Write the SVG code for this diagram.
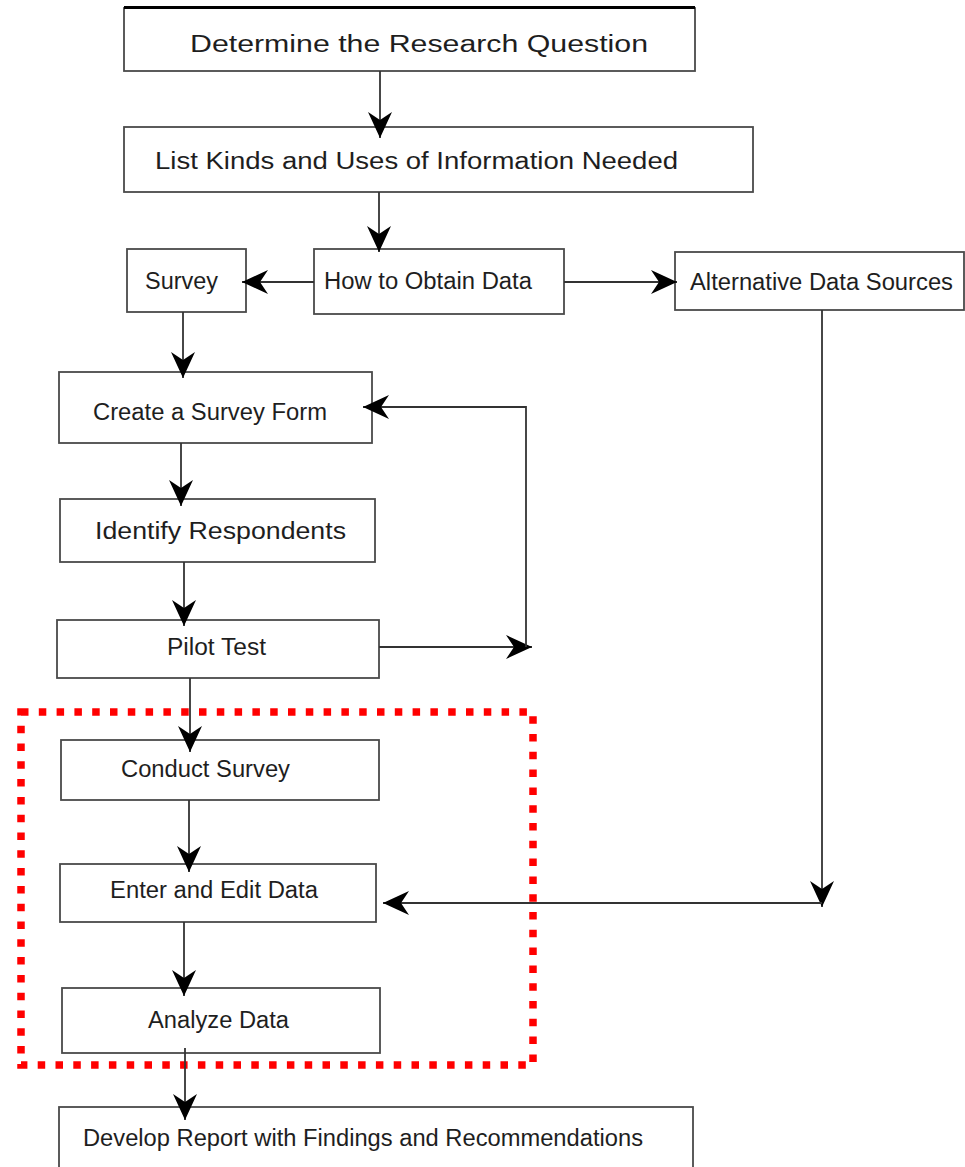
<svg xmlns="http://www.w3.org/2000/svg" width="965" height="1167" viewBox="0 0 965 1167">
<style>
.box{fill:#fff;stroke:#4a4a4a;stroke-width:1.8}
.t{font-family:"Liberation Sans",Arial,sans-serif;font-size:23px;fill:#1e1e1e}
.c{fill:none;stroke:#333;stroke-width:1.8}
.hl{fill:none;stroke:#ff0000;stroke-width:7.5;stroke-dasharray:7.5 10.3}
</style>
<defs>
<marker id="ah" markerUnits="userSpaceOnUse" markerWidth="30" markerHeight="28" viewBox="-28 -14 30 28" refX="0" refY="0" orient="auto">
<path d="M0,0 L-26,-12 L-18,0 L-26,12 Z" fill="#000"/>
</marker>
</defs>
<rect width="965" height="1167" fill="#fff"/>
<g id="n1"><rect class="box" x="124" y="8" width="571" height="63"/><line x1="124" y1="7.5" x2="695" y2="7.5" stroke="#000" stroke-width="3"/><text class="t" x="190" y="52" font-size="27" textLength="458" lengthAdjust="spacingAndGlyphs">Determine the Research Question</text></g>
<g id="n2"><rect class="box" x="124" y="127" width="629" height="65"/><text class="t" x="155" y="169" font-size="22" textLength="523" lengthAdjust="spacingAndGlyphs">List Kinds and Uses of Information Needed</text></g>
<g id="n3"><rect class="box" x="127" y="249" width="119" height="63"/><text class="t" x="145" y="289" textLength="73" lengthAdjust="spacingAndGlyphs">Survey</text></g>
<g id="n4"><rect class="box" x="314" y="249" width="250" height="65"/><text class="t" x="324" y="289" textLength="208" lengthAdjust="spacingAndGlyphs">How to Obtain Data</text></g>
<g id="n5"><rect class="box" x="675" y="252" width="289" height="58"/><text class="t" x="690" y="290" textLength="263" lengthAdjust="spacingAndGlyphs">Alternative Data Sources</text></g>
<g id="n6"><rect class="box" x="59" y="372" width="313" height="71"/><text class="t" x="93" y="420" textLength="234" lengthAdjust="spacingAndGlyphs">Create a Survey Form</text></g>
<g id="n7"><rect class="box" x="60" y="499" width="315" height="63"/><text class="t" x="95" y="539" textLength="251" lengthAdjust="spacingAndGlyphs">Identify Respondents</text></g>
<g id="n8"><rect class="box" x="57" y="620" width="322" height="58"/><text class="t" x="167" y="655" textLength="99" lengthAdjust="spacingAndGlyphs">Pilot Test</text></g>
<g id="n9"><rect class="box" x="61" y="740" width="318" height="60"/><text class="t" x="121" y="777" textLength="169" lengthAdjust="spacingAndGlyphs">Conduct Survey</text></g>
<g id="n10"><rect class="box" x="60" y="864" width="316" height="58"/><text class="t" x="110" y="898" textLength="208" lengthAdjust="spacingAndGlyphs">Enter and Edit Data</text></g>
<g id="n11"><rect class="box" x="62" y="988" width="318" height="65"/><text class="t" x="148" y="1028" textLength="141" lengthAdjust="spacingAndGlyphs">Analyze Data</text></g>
<g id="n12"><rect class="box" x="59" y="1107" width="634" height="75"/><text class="t" x="83" y="1146" font-size="22" textLength="560" lengthAdjust="spacingAndGlyphs">Develop Report with Findings and Recommendations</text></g>
<g id="highlight"><rect class="hl" x="21" y="712" width="512" height="353"/></g>
<g id="connectors">
<path class="c" d="M380,71 V138" marker-end="url(#ah)"/>
<path class="c" d="M379,192 V252" marker-end="url(#ah)"/>
<path class="c" d="M314,282 H242" marker-end="url(#ah)"/>
<path class="c" d="M564,282 H677" marker-end="url(#ah)"/>
<path class="c" d="M183,312 V378" marker-end="url(#ah)"/>
<path class="c" d="M181,443 V506" marker-end="url(#ah)"/>
<path class="c" d="M184,562 V626" marker-end="url(#ah)"/>
<path class="c" d="M379,647 H532" marker-end="url(#ah)"/>
<path class="c" d="M526,647 V407 H363" marker-end="url(#ah)"/>
<path class="c" d="M190,678 V752" marker-end="url(#ah)"/>
<path class="c" d="M189,800 V872" marker-end="url(#ah)"/>
<path class="c" d="M184,922 V996" marker-end="url(#ah)"/>
<path class="c" d="M185,1048 V1120" marker-end="url(#ah)"/>
<path class="c" d="M822,310 V907" marker-end="url(#ah)"/>
<path class="c" d="M822,903 H383" marker-end="url(#ah)"/>
</g>
</svg>
